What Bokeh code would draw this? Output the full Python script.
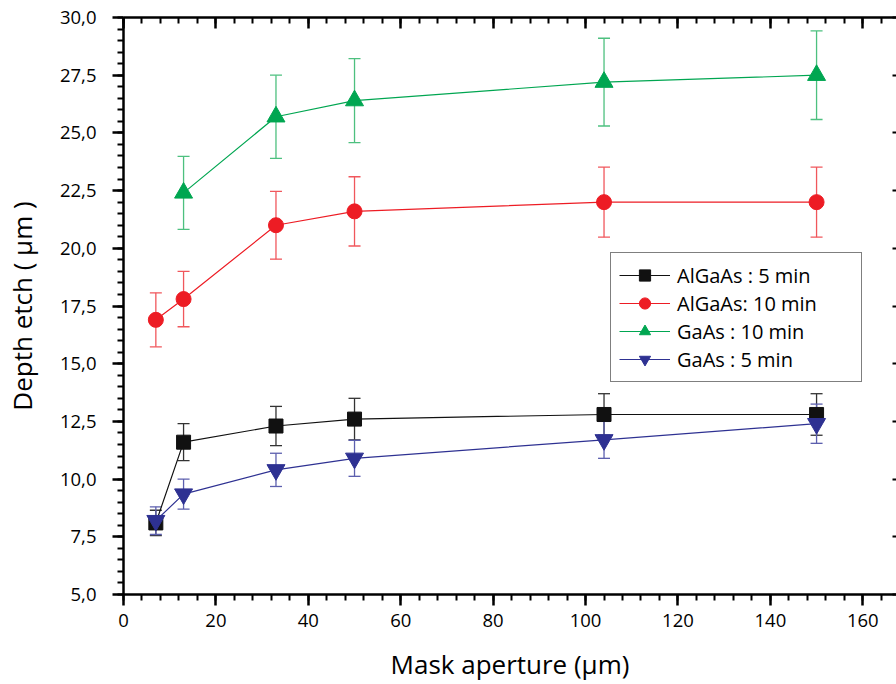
from bokeh.plotting import figure
from bokeh.models import (ColumnDataSource, Whisker, TeeHead, LinearAxis, SingleIntervalTicker,
                          CustomJSTickFormatter, Range1d, Legend)
from bokeh.embed import file_html
from bokeh.resources import INLINE

x_all = [7, 13, 33, 50, 104, 150]
x_gaas10 = [13, 33, 50, 104, 150]

algaas5 = [8.1, 11.6, 12.3, 12.6, 12.8, 12.8]
algaas5_err = [0.55, 0.8, 0.85, 0.9, 0.9, 0.9]
algaas10 = [16.9, 17.8, 21.0, 21.6, 22.0, 22.0]
algaas10_err = [1.17, 1.2, 1.47, 1.5, 1.52, 1.52]
gaas10 = [22.4, 25.7, 26.4, 27.2, 27.5]
gaas10_err = [1.58, 1.8, 1.82, 1.9, 1.92]
gaas5 = [8.2, 9.35, 10.4, 10.9, 11.7, 12.4]
gaas5_err = [0.6, 0.65, 0.72, 0.78, 0.8, 0.85]

FONT = "Open Sans"

p = figure(width=896, height=684, output_backend="svg", toolbar_location=None,
           x_range=Range1d(0, 167.3), y_range=Range1d(5, 30),
           min_border_left=123, min_border_right=0, min_border_top=17, min_border_bottom=90,
           x_axis_label="Mask aperture (µm)", y_axis_label="Depth etch ( µm )")
p.grid.visible = False
p.outline_line_color = None
p.background_fill_color = "white"
p.border_fill_color = "white"

xt = SingleIntervalTicker(interval=20, num_minor_ticks=5)
yt = SingleIntervalTicker(interval=2.5, num_minor_ticks=5)
p.xaxis.ticker = xt
p.yaxis.ticker = yt
p.yaxis.formatter = CustomJSTickFormatter(code="return tick.toFixed(1).replace('.', ',');")

for ax in (p.xaxis[0], p.yaxis[0]):
    ax.axis_line_width = 2.5
    ax.major_tick_line_width = 2.5
    ax.minor_tick_line_width = 2
    ax.major_tick_in = 0
    ax.major_tick_out = 11
    ax.minor_tick_in = 0
    ax.minor_tick_out = 6
    ax.major_label_text_font = FONT
    ax.major_label_text_font_size = "18.5px"
    ax.major_label_text_color = "black"
    ax.axis_label_text_font = FONT
    ax.axis_label_text_font_size = "26px"
    ax.axis_label_text_font_style = "normal"
    ax.axis_label_text_color = "black"
p.xaxis.major_label_standoff = 8
p.xaxis.axis_label_standoff = 16
p.yaxis.major_label_standoff = 16
p.yaxis.axis_label_standoff = 17

empty = CustomJSTickFormatter(code="return '';")
top = LinearAxis(ticker=SingleIntervalTicker(interval=20, num_minor_ticks=5), formatter=empty,
                 axis_line_width=2.5, major_tick_line_width=2.5, minor_tick_line_width=2,
                 major_tick_in=11, major_tick_out=0, minor_tick_in=6, minor_tick_out=0,
                 major_label_standoff=0, major_label_text_font_size="1px")
p.add_layout(top, "above")
right = LinearAxis(ticker=SingleIntervalTicker(interval=2.5, num_minor_ticks=0), formatter=empty,
                   axis_line_color=None, major_tick_line_width=2,
                   major_tick_in=4, major_tick_out=0, minor_tick_line_color=None,
                   major_label_standoff=0, major_label_text_font_size="1px")
p.add_layout(right, "right")

series = [
    ("AlGaAs : 5 min", x_all, algaas5, algaas5_err, "#111111", "#333333", "square", 14),
    ("AlGaAs: 10 min", x_all, algaas10, algaas10_err, "#ED1C24", "#F0575C", "circle", 15),
    ("GaAs : 10 min", x_gaas10, gaas10, gaas10_err, "#00A651", "#4DC07F", "triangle", 18),
    ("GaAs : 5 min", x_all, gaas5, gaas5_err, "#2E3192", "#5C5FAE", "inverted_triangle", 18),
]

items = []
for label, xs, ys, errs, col, ecol, marker, size in series:
    src = ColumnDataSource(dict(x=xs, y=ys,
                                upper=[a + b for a, b in zip(ys, errs)],
                                lower=[a - b for a, b in zip(ys, errs)]))
    w = Whisker(source=src, base="x", upper="upper", lower="lower",
                line_color=ecol, line_width=1.3,
                upper_head=TeeHead(size=12, line_color=ecol, line_width=1.3),
                lower_head=TeeHead(size=12, line_color=ecol, line_width=1.3))
    p.add_layout(w)
    l = p.line("x", "y", source=src, line_color=col, line_width=1.2)
    s = p.scatter("x", "y", source=src, marker=marker, size=size, fill_color=col, line_color=col)
    items.append((label, [l, s]))

legend = Legend(items=items, location=(487, 212))
legend.border_line_color = "black"
legend.border_line_width = 1
legend.padding = 8
legend.margin = 0
legend.spacing = 0
legend.glyph_width = 51
legend.glyph_height = 28
legend.label_height = 28
legend.label_width = 176
legend.label_standoff = 7
legend.label_text_font = FONT
legend.label_text_font_size = "20px"
legend.label_text_color = "black"
legend.background_fill_alpha = 1
p.add_layout(legend, "center")

open("out.html", "w").write(file_html(p, INLINE))
